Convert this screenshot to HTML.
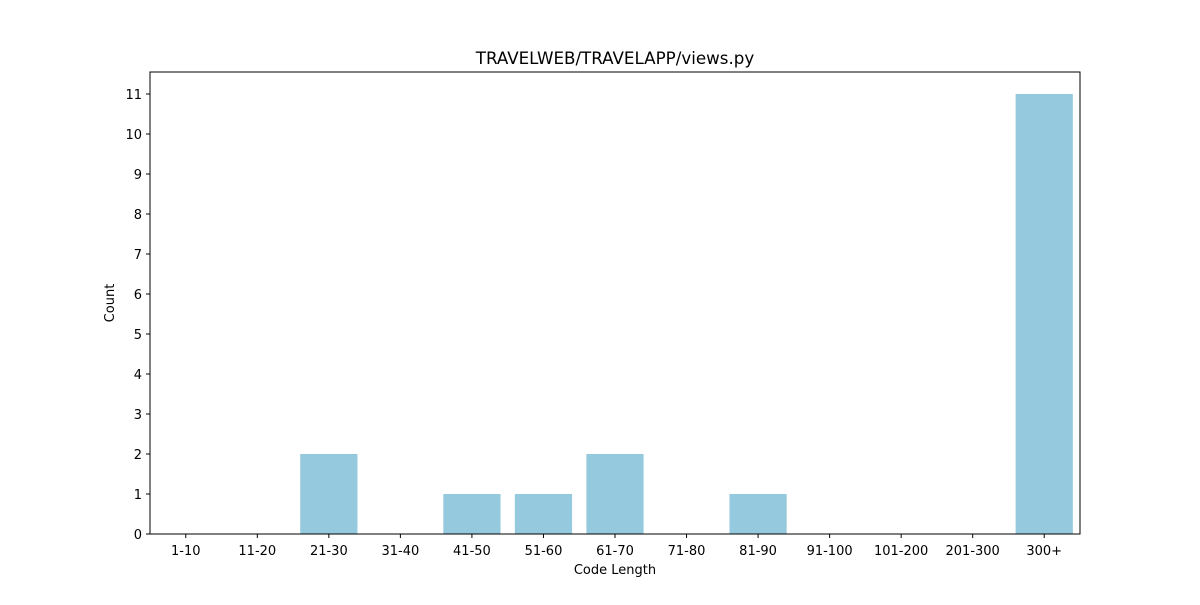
<!DOCTYPE html>
<html><head><meta charset="utf-8"><style>
body{margin:0;background:#fff;font-family:"Liberation Sans","DejaVu Sans",sans-serif;}
svg text{font-family:"DejaVu Sans","Liberation Sans",sans-serif;}
</style></head><body>
<svg id="chart" width="1200" height="600" xmlns="http://www.w3.org/2000/svg">
<rect width="1200" height="600" fill="#fff"/>
<text x="615" y="64" font-size="16.7" text-anchor="middle">TRAVELWEB/TRAVELAPP/views.py</text>
<g id="bars"></g>
<g id="xticks"></g>
<g id="yticks"></g>
<rect x="150" y="72" width="930" height="462" fill="none" stroke="#000" stroke-width="1"/>
<text x="615" y="574" font-size="13" text-anchor="middle">Code Length</text>
<text x="114" y="303" font-size="13" text-anchor="middle" transform="rotate(-90 114 303)">Count</text>
</svg>
<script>
const categories=["1-10","11-20","21-30","31-40","41-50","51-60","61-70","71-80","81-90","91-100","101-200","201-300","300+"];
const counts=[0,0,2,0,1,1,2,0,1,0,0,0,11];
const yTicks=[0,1,2,3,4,5,6,7,8,9,10,11];
const L=150,R=1080,T=72,B=534,yMax=11.55;
const ns="http://www.w3.org/2000/svg";
const step=(R-L)/categories.length;
const xc=i=>L+(i+0.5)*step;
const y=v=>B-(v/yMax)*(B-T);
const bars=document.getElementById('bars'),xt=document.getElementById('xticks'),yt=document.getElementById('yticks');
categories.forEach((c,i)=>{
 const r=document.createElementNS(ns,'rect');
 r.setAttribute('x',xc(i)-step*0.4);r.setAttribute('width',step*0.8);
 r.setAttribute('y',y(counts[i]));r.setAttribute('height',B-y(counts[i]));
 r.setAttribute('fill','#95c9dd');
 
 
 bars.appendChild(r);
 const l=document.createElementNS(ns,'line');
 l.setAttribute('x1',xc(i));l.setAttribute('x2',xc(i));l.setAttribute('y1',B);l.setAttribute('y2',B+4);l.setAttribute('stroke','#000');
 
 
 xt.appendChild(l);
 const t=document.createElementNS(ns,'text');
 t.setAttribute('x',xc(i));t.setAttribute('y',555);t.setAttribute('font-size','13');t.setAttribute('text-anchor','middle');t.textContent=c;
 
 
 xt.appendChild(t);
});
yTicks.forEach(v=>{
 const l=document.createElementNS(ns,'line');
 l.setAttribute('x1',L-4);l.setAttribute('x2',L);l.setAttribute('y1',y(v));l.setAttribute('y2',y(v));l.setAttribute('stroke','#000');
 
 
 yt.appendChild(l);
 const t=document.createElementNS(ns,'text');
 t.setAttribute('x',L-8);t.setAttribute('y',y(v)+5);t.setAttribute('font-size','13');t.setAttribute('text-anchor','end');t.textContent=v;
 
 
 yt.appendChild(t);
});
</script>
</body></html>
